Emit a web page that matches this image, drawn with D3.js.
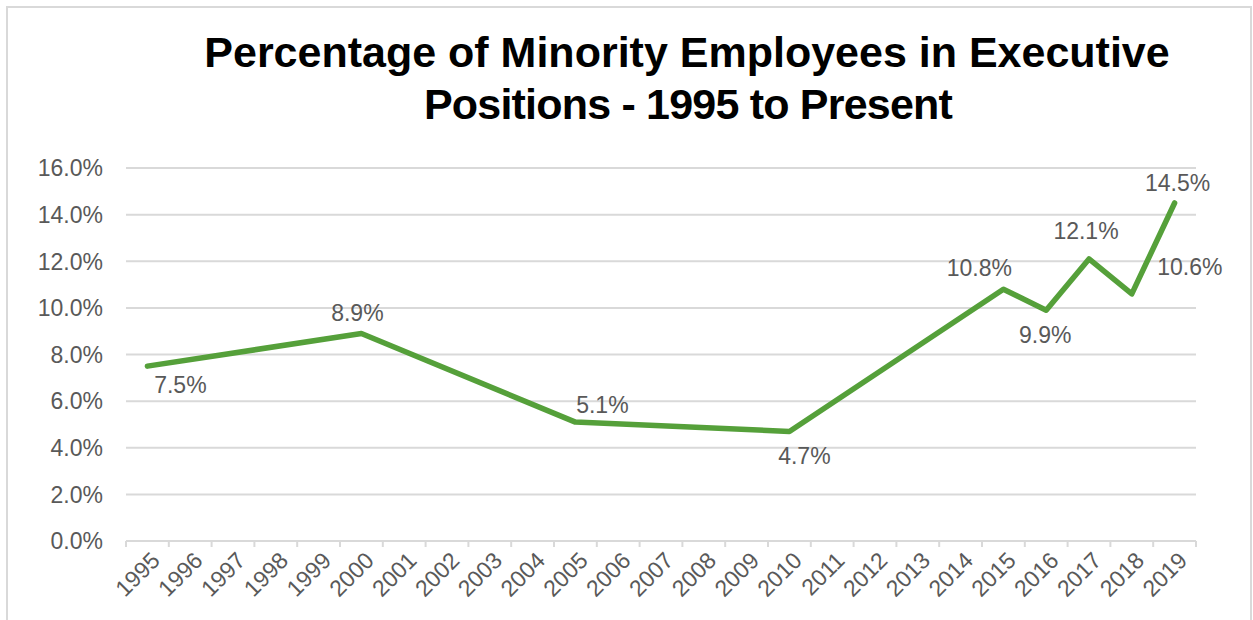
<!DOCTYPE html>
<html lang="en">
<head>
    <meta charset="UTF-8">
    <title>Percentage of Minority Employees in Executive Positions</title>
    <script src="https://d3js.org/d3.v7.min.js"></script>
    <style>
        body { margin: 0; background: #fff; }
        svg { display: block; }
    </style>
</head>
<body>
    <div id="chart"></div>

    <script>
        // Chart data
        const years = ["1995", "1996", "1997", "1998", "1999", "2000", "2001", "2002", "2003", "2004",
                       "2005", "2006", "2007", "2008", "2009", "2010", "2011", "2012", "2013", "2014",
                       "2015", "2016", "2017", "2018", "2019"];
        const dataYears = ["1995", "2000", "2005", "2010", "2015", "2016", "2017", "2018", "2019"];
        const dataValues = [7.5, 8.9, 5.1, 4.7, 10.8, 9.9, 12.1, 10.6, 14.5];
        const yTicks = [0, 2, 4, 6, 8, 10, 12, 14, 16];

        // where each data label sits relative to its point (dx, dy in px)
        const labelOffsets = [[33, 19], [-4, -21], [27, -17], [15, 24], [-24, -22],
                              [-1, 25], [-3, -28], [58, -27], [3, -20]];

        const width = 1253, height = 620;
        const margin = {top: 168, right: 57, bottom: 79, left: 126};
        const textColor = "#595959";
        const gridColor = "#d9d9d9";
        const lineColor = "#55a03a";
        const font = "'Liberation Sans', Arial, sans-serif";

        const svg = d3.select("#chart")
                      .append("svg")
                      .attr("width", width)
                      .attr("height", height);

        // outer chart frame
        svg.append("rect")
           .attr("x", 7).attr("y", 7)
           .attr("width", 1244).attr("height", 640)
           .attr("fill", "none")
           .attr("stroke", gridColor)
           .attr("stroke-width", 2);

        // Title
        const title = svg.append("text")
           .attr("text-anchor", "middle")
           .attr("font-family", font)
           .attr("font-weight", "bold")
           .attr("font-size", 43)
           .attr("fill", "#000");
        title.append("tspan").attr("x", 687).attr("y", 67)
             .text("Percentage of Minority Employees in Executive");
        title.append("tspan").attr("x", 688).attr("y", 119)
             .attr("letter-spacing", -0.8)
             .text("Positions - 1995 to Present");

        const plotW = width - margin.left - margin.right;
        const plotH = height - margin.top - margin.bottom;

        const g = svg.append("g")
                     .attr("transform", `translate(${margin.left},${margin.top})`);

        const x = d3.scaleBand().domain(years).range([0, plotW]);
        const y = d3.scaleLinear().domain([0, 16]).range([plotH, 0]);

        // Horizontal gridlines
        g.selectAll(".grid")
         .data(yTicks.filter(d => d > 0))
         .enter()
         .append("line")
         .attr("x1", 0).attr("x2", plotW)
         .attr("y1", d => y(d)).attr("y2", d => y(d))
         .attr("stroke", gridColor)
         .attr("stroke-width", 2);

        // Y axis labels
        g.selectAll(".ylab")
         .data(yTicks)
         .enter()
         .append("text")
         .attr("x", -23)
         .attr("y", d => y(d))
         .attr("dy", "0.36em")
         .attr("text-anchor", "end")
         .attr("font-family", font)
         .attr("font-size", 23)
         .attr("fill", textColor)
         .text(d => d.toFixed(1) + "%");

        // X axis line and ticks at category boundaries
        g.append("line")
         .attr("x1", 0).attr("x2", plotW)
         .attr("y1", plotH).attr("y2", plotH)
         .attr("stroke", gridColor)
         .attr("stroke-width", 2);

        const tickPos = years.map(d => x(d)).concat([x.range()[1]]);
        g.selectAll(".xtick")
         .data(tickPos)
         .enter()
         .append("line")
         .attr("x1", d => d).attr("x2", d => d)
         .attr("y1", plotH).attr("y2", plotH + 6)
         .attr("stroke", gridColor)
         .attr("stroke-width", 2);

        // X axis labels, rotated
        g.selectAll(".xlab")
         .data(years)
         .enter()
         .append("text")
         .attr("transform", d => `translate(${x(d) + x.bandwidth() / 2 + 8},${plotH + 15}) rotate(-45)`)
         .attr("dy", "0.36em")
         .attr("text-anchor", "end")
         .attr("font-family", font)
         .attr("font-size", 23)
         .attr("fill", textColor)
         .text(d => d);

        // Data line (gaps are connected, like the original)
        const points = dataYears.map((d, i) => ({year: d, value: dataValues[i]}));
        const line = d3.line()
                       .x(d => x(d.year) + x.bandwidth() / 2)
                       .y(d => y(d.value));

        g.append("path")
         .datum(points)
         .attr("d", line)
         .attr("fill", "none")
         .attr("stroke", lineColor)
         .attr("stroke-width", 5.5)
         .attr("stroke-linejoin", "round")
         .attr("stroke-linecap", "round");

        // Data labels
        g.selectAll(".dlab")
         .data(points)
         .enter()
         .append("text")
         .attr("x", (d, i) => x(d.year) + x.bandwidth() / 2 + labelOffsets[i][0])
         .attr("y", (d, i) => y(d.value) + labelOffsets[i][1])
         .attr("dy", "0.36em")
         .attr("text-anchor", "middle")
         .attr("font-family", font)
         .attr("font-size", 23)
         .attr("fill", textColor)
         .text(d => d.value.toFixed(1) + "%");
    </script>
</body>
</html>
